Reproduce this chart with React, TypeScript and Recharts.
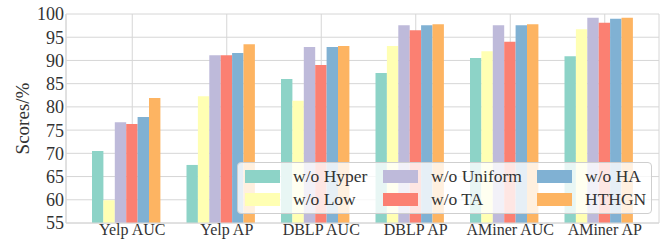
import { BarChart, Bar, XAxis, YAxis, CartesianGrid } from "recharts"

const categories = ["Yelp AUC", "Yelp AP", "DBLP AUC", "DBLP AP", "AMiner AUC", "AMiner AP"]
const woHyper = [70.5, 67.5, 86.0, 87.3, 90.5, 90.9]
const woLow = [59.9, 82.3, 81.3, 93.1, 92.0, 96.7]
const woUniform = [76.7, 91.1, 92.9, 97.6, 97.6, 99.2]
const woTA = [76.3, 91.1, 89.0, 96.5, 94.0, 98.1]
const woHA = [77.8, 91.6, 92.9, 97.6, 97.6, 99.0]
const hthgn = [81.9, 93.5, 93.1, 97.8, 97.8, 99.2]
const yTicks = [55, 60, 65, 70, 75, 80, 85, 90, 95, 100]

const series = [
  { key: "w/o Hyper", values: woHyper, color: "#8dd3c7" },
  { key: "w/o Low", values: woLow, color: "#ffffb3" },
  { key: "w/o Uniform", values: woUniform, color: "#bebada" },
  { key: "w/o TA", values: woTA, color: "#fb8072" },
  { key: "w/o HA", values: woHA, color: "#80b1d3" },
  { key: "HTHGN", values: hthgn, color: "#fdb462" },
]

const data = categories.map((name, i) => {
  const row: Record<string, string | number> = { name }
  series.forEach((s) => (row[s.key] = s.values[i]))
  return row
})

// legend order is column-wise: (Hyper, Low), (Uniform, TA), (HA, HTHGN)
const legendCols = [
  [series[0], series[1]],
  [series[2], series[3]],
  [series[4], series[5]],
]

const font = "Liberation Serif"
const textColor = "#333"
const gridColor = "#d6d6d6"

export default function App() {
  return (
    <div style={{ position: "absolute", left: 0, top: 0, width: 667, height: 242, fontFamily: font }}>
      <BarChart
        width={667}
        height={242}
        data={data}
        margin={{ top: 14, right: 8, left: 0, bottom: 0 }}
        barGap={0}
        barSize={11.4}
      >
        <CartesianGrid stroke={gridColor} strokeWidth={1} />
        <XAxis
          dataKey="name"
          padding={{ left: 19, right: 7 }}
          tickLine={false}
          tickSize={0}
          axisLine={{ stroke: gridColor }}
          tick={{ fill: textColor, fontSize: 16, fontFamily: font }}
          tickMargin={1}
          height={19}
          interval={0}
        />
        <YAxis
          domain={[55, 100]}
          ticks={yTicks}
          tickLine={false}
          tickSize={0}
          axisLine={{ stroke: gridColor }}
          tick={{ fill: textColor, fontSize: 18, fontFamily: font }}
          tickMargin={2}
          width={66}
          interval={0}
          label={{
            value: "Scores/%",
            angle: -90,
            position: "center",
            dx: -11,
            fill: textColor,
            fontSize: 19,
            fontFamily: font,
          }}
        />
        <YAxis yAxisId="right" orientation="right" width={0} tick={false} tickLine={false} axisLine={{ stroke: gridColor }} />
        {series.map((s) => (
          <Bar key={s.key} dataKey={s.key} fill={s.color} isAnimationActive={false} />
        ))}
        {/* empty slot so each group sits half a bar left of its tick */}
        <Bar dataKey="__empty" fill="none" legendType="none" isAnimationActive={false} />
      </BarChart>
      <div
        style={{
          position: "absolute",
          left: 237,
          top: 162,
          width: 413,
          height: 50,
          background: "rgba(255,255,255,0.8)",
          border: "1px solid #cfcfcf",
          borderRadius: 4,
          fontSize: 17.5,
          color: textColor,
        }}
      >
        {legendCols.map((col, ci) => (
          <div key={ci} style={{ position: "absolute", left: [7, 145, 299][ci], top: 0 }}>
            {col.map((s, ri) => (
              <div
                key={s.key}
                style={{ position: "absolute", top: [3, 26][ri], left: 0, display: "flex", alignItems: "center", whiteSpace: "nowrap", height: 20 }}
              >
                <span style={{ display: "inline-block", width: 35, height: 13, background: s.color }} />
                <span style={{ marginLeft: 13, lineHeight: "20px" }}>{s.key}</span>
              </div>
            ))}
          </div>
        ))}
      </div>
    </div>
  )
}
